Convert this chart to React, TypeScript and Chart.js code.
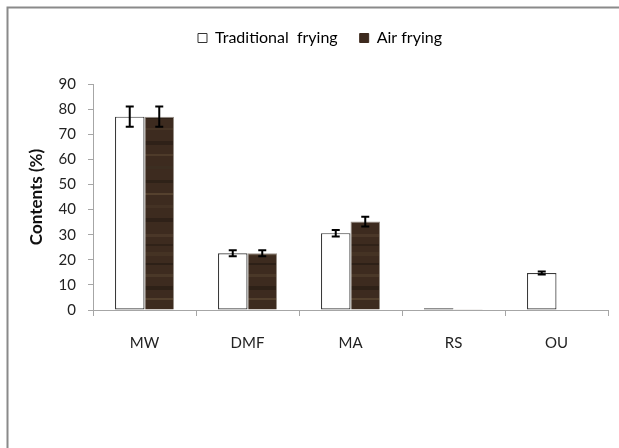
import React, { useEffect, useRef } from "react";
import { Chart, registerables } from "chart.js";

Chart.register(...registerables);

const categories = ["MW", "DMF", "MA", "RS", "OU"];
const traditional = [77, 22.6, 30.6, 0.7, 14.7];
const air = [77, 22.6, 35.2, 0.3, 0];
const traditionalErr = [4, 1.2, 1.3, 0, 0.6];
const airErr = [4, 1.2, 1.9, 0, 0];
const seriesNames = ["Traditional  frying", "Air frying"];
const yTicksMax = 90;
const yStep = 10;

const FONT = "Lato, 'Open Sans', sans-serif";

function makeWood(): CanvasPattern | string {
  const c = document.createElement("canvas");
  c.width = 40;
  c.height = 230;
  const g = c.getContext("2d");
  if (!g) return "#3f2d21";
  g.fillStyle = "#3d2b1f";
  g.fillRect(0, 0, 40, 230);
  const stripes: [number, number, string][] = [
    [4, 3, "rgba(90,70,50,0.45)"],
    [14, 2, "rgba(40,28,20,0.6)"],
    [22, 4, "rgba(85,66,46,0.35)"],
    [33, 2, "rgba(30,22,15,0.5)"],
    [44, 3, "rgba(96,78,55,0.4)"],
    [56, 4, "rgba(32,23,16,0.5)"],
    [68, 2, "rgba(110,90,62,0.45)"],
    [79, 3, "rgba(80,62,44,0.35)"],
    [92, 4, "rgba(28,20,14,0.5)"],
    [104, 2, "rgba(100,82,58,0.35)"],
    [116, 3, "rgba(36,26,18,0.5)"],
    [128, 2, "rgba(88,70,50,0.4)"],
    [141, 4, "rgba(30,22,15,0.45)"],
    [154, 2, "rgba(105,86,60,0.4)"],
    [166, 3, "rgba(60,52,36,0.45)"],
    [180, 3, "rgba(34,25,17,0.5)"],
    [193, 2, "rgba(115,94,65,0.45)"],
    [205, 3, "rgba(82,64,45,0.35)"],
    [218, 4, "rgba(30,22,15,0.45)"],
  ];
  for (const [y, h, col] of stripes) {
    g.fillStyle = col;
    g.fillRect(0, y, 40, h);
  }
  return g.createPattern(c, "repeat") || "#3f2d21";
}

const framePlugin = {
  id: "frame",
  beforeDraw(chart: any) {
    const ctx = chart.ctx;
    ctx.save();
    ctx.fillStyle = "#ffffff";
    ctx.fillRect(0, 0, chart.width, chart.height);
    ctx.strokeStyle = "#8a8a8a";
    ctx.lineWidth = 2;
    ctx.beginPath();
    ctx.moveTo(7.5, chart.height);
    ctx.lineTo(7.5, 7.5);
    ctx.lineTo(chart.width, 7.5);
    ctx.stroke();
    ctx.restore();
  },
};

const legendShiftPlugin = {
  id: "legendShift",
  afterLayout(chart: any) {
    const lg = chart.legend;
    if (lg) {
      lg.left += 12;
      lg.right += 12;
    }
  },
};

const errorBarPlugin = {
  id: "errorBars",
  afterDatasetsDraw(chart: any) {
    const ctx = chart.ctx;
    const yScale = chart.scales.y;
    const errs = [traditionalErr, airErr];
    chart.data.datasets.forEach((ds: any, di: number) => {
      const meta = chart.getDatasetMeta(di);
      meta.data.forEach((bar: any, i: number) => {
        const e = errs[di][i];
        const v = ds.data[i];
        if (!e) return;
        const x = bar.x;
        const yTop = yScale.getPixelForValue(v + e);
        const yBot = yScale.getPixelForValue(v - e);
        ctx.save();
        ctx.strokeStyle = "#000000";
        ctx.lineWidth = 2;
        ctx.beginPath();
        ctx.moveTo(x, yTop);
        ctx.lineTo(x, yBot);
        ctx.moveTo(x - 4, yTop);
        ctx.lineTo(x + 4, yTop);
        ctx.moveTo(x - 4, yBot);
        ctx.lineTo(x + 4, yBot);
        ctx.stroke();
        ctx.restore();
      });
    });
  },
};

export default function App() {
  const ref = useRef<HTMLCanvasElement>(null);

  useEffect(() => {
    if (!ref.current) return;
    const wood = makeWood();
    const chart = new Chart(ref.current, {
      type: "bar",
      data: {
        labels: categories,
        datasets: [
          {
            label: seriesNames[0],
            data: traditional,
            backgroundColor: "#ffffff",
            borderColor: "#3a3a3a",
            borderWidth: 1.2,
            borderSkipped: false,
          },
          {
            label: seriesNames[1],
            data: air,
            backgroundColor: wood as any,
            borderColor: "#9a928a",
            borderWidth: 1,
            borderSkipped: "start",
          },
        ],
      },
      options: {
        responsive: false,
        animation: false,
        layout: { padding: { top: 8, left: 8, right: 11, bottom: 0 } },
        datasets: {
          bar: { categoryPercentage: 0.573, barPercentage: 1 },
        },
        plugins: {
          tooltip: { enabled: false },
          title: { display: false },
          subtitle: {
            display: true,
            text: "",
            weight: 500,
            font: { size: 10, lineHeight: 1 },
            padding: { top: 0, bottom: 18 },
          } as any,
          legend: {
            display: true,
            position: "top",
            labels: {
              boxWidth: 9,
              boxHeight: 9,
              padding: 22,
              color: "#222222",
              font: { family: FONT, size: 16 },
              generateLabels: () => [
                {
                  text: seriesNames[0],
                  fillStyle: "#ffffff",
                  strokeStyle: "#333333",
                  lineWidth: 1,
                  datasetIndex: 0,
                  hidden: false,
                } as any,
                {
                  text: seriesNames[1],
                  fillStyle: "#3d2a1e",
                  strokeStyle: "#3d2a1e",
                  lineWidth: 1,
                  datasetIndex: 1,
                  hidden: false,
                } as any,
              ],
            },
          },
        },
        scales: {
          x: {
            offset: true,
            grid: {
              display: true,
              offset: true,
              drawOnChartArea: false,
              drawTicks: true,
              tickLength: 6,
              color: "#a6a6a6",
            },
            border: { display: true, color: "#a6a6a6", width: 1 },
            ticks: {
              color: "#222222",
              padding: 18,
              font: { family: FONT, size: 15 },
            },
            afterFit: (s: any) => {
              s.height = 448 - 310;
            },
          },
          y: {
            min: 0,
            max: yTicksMax,
            grid: {
              display: true,
              drawOnChartArea: false,
              drawTicks: true,
              tickLength: 5,
              color: "#a6a6a6",
            },
            border: { display: true, color: "#a6a6a6", width: 1 },
            ticks: {
              stepSize: yStep,
              color: "#222222",
              padding: 12,
              font: { family: FONT, size: 15 },
            },
            title: {
              display: true,
              text: "Contents (%)",
              color: "#111111",
              font: { family: FONT, size: 17, weight: "bold" },
              padding: { top: 18, bottom: 0 },
            },
            afterFit: (s: any) => {
              s.width = 93 - 8;
            },
          },
        },
      },
      plugins: [framePlugin, legendShiftPlugin, errorBarPlugin],
    });
    return () => chart.destroy();
  }, []);

  return (
    <div style={{ position: "fixed", left: 0, top: 0, width: 619, height: 448 }}>
      <canvas ref={ref} width={619} height={448} style={{ display: "block" }} />
    </div>
  );
}
